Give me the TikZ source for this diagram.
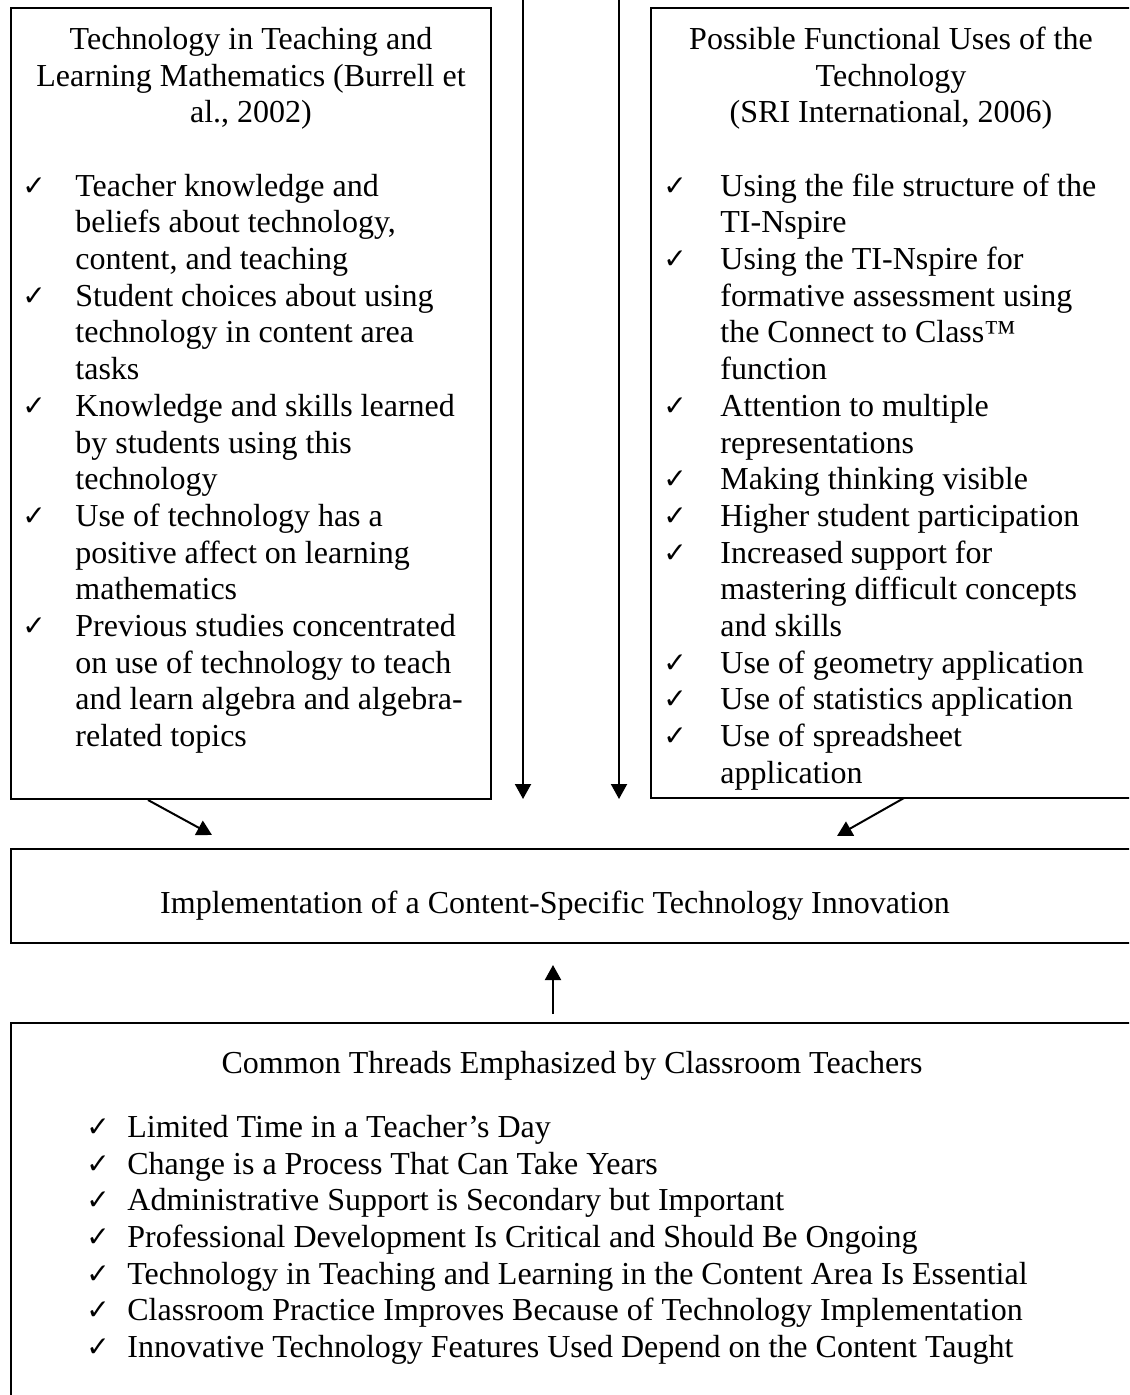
\documentclass[tikz,border=0pt]{standalone}
\usepackage{fontspec}
\setmainfont{Liberation Serif}
\newfontfamily\symf{DejaVu Sans}
\usetikzlibrary{arrows.meta,fit}
\newcommand{\ck}[1]{\makebox[#1][l]{\raisebox{0.5pt}{\symf\fontsize{14}{14}\selectfont ✓}}}
\tikzset{
  boxst/.style={draw, line width=1pt, inner sep=0pt},
  txt/.style={inner sep=0pt, font=\fontsize{16}{18.35}\selectfont},
  arr/.style={line width=1pt, -{Triangle[length=7.5pt,width=8pt]}}
}
\begin{document}
\begin{tikzpicture}[x=0.5pt,y=-0.5pt]
\useasboundingbox (0,0) rectangle (1129,1395);
\clip (0,0) rectangle (1129,1395);
% boxes
\node[boxst, fit={(11,8)(491,799)}] (L) {};
\node[boxst, fit={(651,8)(1131,798)}] (R) {};
\node[boxst, fit={(11,849)(1140,943)}] (M) {};
\node[boxst, fit={(11,1023)(1140,1420)}] (B) {};
% left box text
\node[txt, anchor=north] (Lh) at (251,23.3) {\begin{tabular}{@{}c@{}}
Technology in Teaching and\\
Learning Mathematics (Burrell et\\
al., 2002)\end{tabular}};
\node[txt, anchor=north west] (Ll) at (22,170.1) {\begin{tabular}{@{}l@{}l@{}}
\ck{26.5pt} & Teacher knowledge and\\
 & beliefs about technology,\\
 & content, and teaching\\
\ck{26.5pt} & Student choices about using\\
 & technology in content area\\
 & tasks\\
\ck{26.5pt} & Knowledge and skills learned\\
 & by students using this\\
 & technology\\
\ck{26.5pt} & Use of technology has a\\
 & positive affect on learning\\
 & mathematics\\
\ck{26.5pt} & Previous studies concentrated\\
 & on use of technology to teach\\
 & and learn algebra and algebra-\\
 & related topics\end{tabular}};
% right box text
\node[txt, anchor=north] (Rh) at (891,23.3) {\begin{tabular}{@{}c@{}}
Possible Functional Uses of the\\
Technology\\
(SRI International, 2006)\end{tabular}};
\node[txt, anchor=north west] (Rl) at (663,170.1) {\begin{tabular}{@{}l@{}l@{}}
\ck{28.5pt} & Using the file structure of the\\
 & TI-Nspire\\
\ck{28.5pt} & Using the TI-Nspire for\\
 & formative assessment using\\
 & the Connect to Class™\\
 & function\\
\ck{28.5pt} & Attention to multiple\\
 & representations\\
\ck{28.5pt} & Making thinking visible\\
\ck{28.5pt} & Higher student participation\\
\ck{28.5pt} & Increased support for\\
 & mastering difficult concepts\\
 & and skills\\
\ck{28.5pt} & Use of geometry application\\
\ck{28.5pt} & Use of statistics application\\
\ck{28.5pt} & Use of spreadsheet\\
 & application\end{tabular}};
% middle
\node[txt, anchor=base] (Mt) at (555,913) {Implementation of a Content-Specific Technology Innovation};
% bottom
\node[txt, anchor=base] (Bh) at (572,1073) {Common Threads Emphasized by Classroom Teachers};
\node[txt, anchor=north west] (Bl) at (86,1111.3) {\begin{tabular}{@{}l@{}l@{}}
\ck{20.5pt} & Limited Time in a Teacher’s Day\\
\ck{20.5pt} & Change is a Process That Can Take Years\\
\ck{20.5pt} & Administrative Support is Secondary but Important\\
\ck{20.5pt} & Professional Development Is Critical and Should Be Ongoing\\
\ck{20.5pt} & Technology in Teaching and Learning in the Content Area Is Essential\\
\ck{20.5pt} & Classroom Practice Improves Because of Technology Implementation\\
\ck{20.5pt} & Innovative Technology Features Used Depend on the Content Taught\end{tabular}};
% connectors
\coordinate (d1s) at (523,-10);
\coordinate (d1e) at (523,799);
\coordinate (d2s) at (619,-10);
\coordinate (d2e) at (619,799);
\coordinate (ls) at (148,800);
\coordinate (le) at (212,835);
\coordinate (rs) at (904,798);
\coordinate (re) at (837,836);
\coordinate (us) at (553,1014);
\coordinate (ue) at (553,965);
\draw[arr] (d1s) -- (d1e);
\draw[arr] (d2s) -- (d2e);
\draw[arr] (ls) -- (le);
\draw[arr] (rs) -- (re);
\draw[arr] (us) -- (ue);
\end{tikzpicture}
\end{document}
